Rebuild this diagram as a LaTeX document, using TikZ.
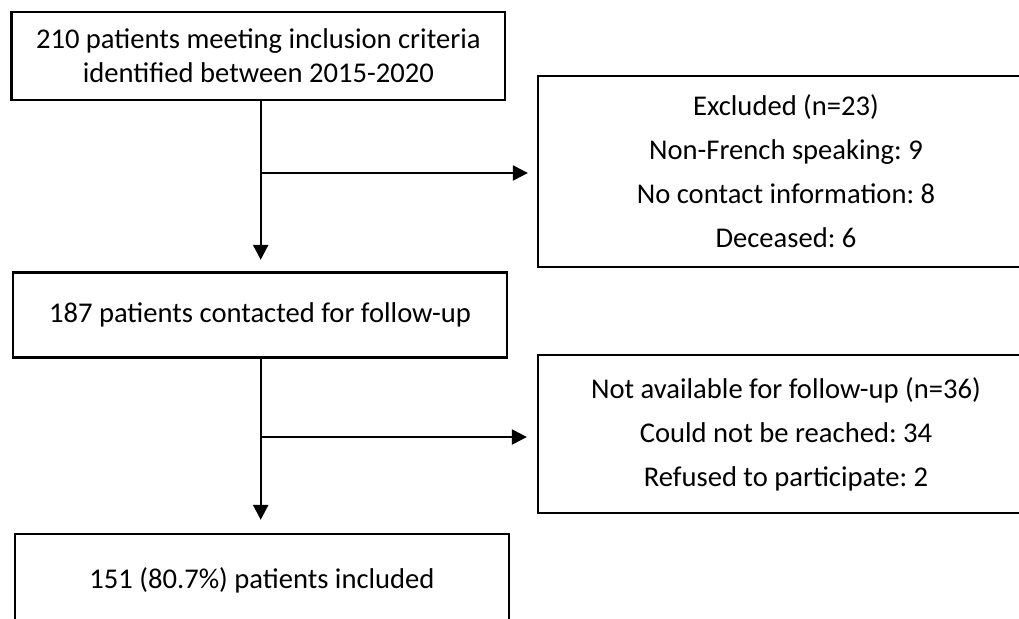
\documentclass[tikz,border=0pt]{standalone}
\usepackage{fontspec}
\setmainfont{Carlito}
\frenchspacing
\usetikzlibrary{arrows.meta}
\begin{document}
\begin{tikzpicture}[x=1pt,y=-1pt,
  box/.style={draw=black, line width=2.3pt, rectangle, inner sep=0pt, align=center, text=black},
  tight/.style={font=\fontsize{28.6}{34}\selectfont},
  loose/.style={font=\fontsize{28.6}{44}\selectfont},
  arr/.style={draw=black, line width=2.3pt, -{Triangle[length=15pt,width=15pt]}}]
\fill[white] (0,0) rectangle (1019,618);
\useasboundingbox (0,0) rectangle (1019,618);
\clip (0,0) rectangle (1019,618);
\node[box, tight, minimum width=493.5pt, minimum height=88pt] (top) at (258.3,56)
  {210 patients meeting inclusion criteria\\identified between 2015-2020};
\node[box, tight, minimum width=494pt, minimum height=85pt] (contact) at (260,315)
  {187 patients contacted for follow-up};
\node[box, tight, minimum width=494pt, minimum height=92pt] (incl) at (262,580)
  {151 (80.7\%) patients included};
\node[box, loose, minimum width=496pt, minimum height=191pt] (excl) at (786,171.5)
  {Excluded (n=23)\\Non-French speaking: 9\\No contact information: 8\\Deceased: 6};
\node[box, loose, minimum width=496pt, minimum height=158pt] (na) at (786,434)
  {Not available for follow-up (n=36)\\Could not be reached: 34\\Refused to participate: 2};
\coordinate (j1) at (260.7,173);
\coordinate (j2) at (260.7,437);
\draw[arr, shorten >=11.5pt] (top.south -| j1) -- (contact.north -| j1);
\draw[arr, shorten >=9pt] (j1) -- (excl.west |- j1);
\draw[arr, shorten >=13pt] (contact.south -| j2) -- (incl.north -| j2);
\draw[arr, shorten >=10pt] (j2) -- (na.west |- j2);
\end{tikzpicture}
\end{document}
